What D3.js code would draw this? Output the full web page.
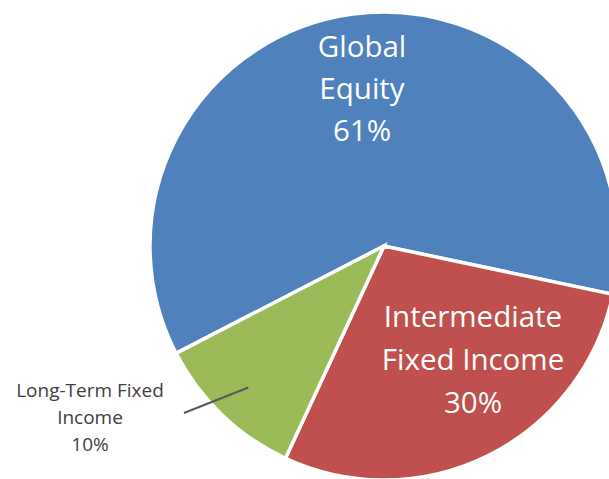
<!DOCTYPE html>
<html><head><meta charset="utf-8">
<script src="https://cdn.jsdelivr.net/npm/d3@7"></script>
<style>html,body{margin:0;padding:0;background:#fff;} svg{display:block;}</style>
</head><body>
<script>
const categories = ["Global Equity", "Intermediate Fixed Income", "Long-Term Fixed Income"];
const values = [60.9, 28.6, 10.5];
const pctLabels = ["61%", "30%", "10%"];
const labelLines = [["Global", "Equity"], ["Intermediate", "Fixed Income"], ["Long-Term Fixed", "Income"]];
const colors = ["#4F81BD", "#C0504D", "#9BBB59"];

const W = 609, H = 479;
const cx = 384, cy = 246, R = 234;
const svg = d3.select("body").append("svg").attr("width", W).attr("height", H);
const g = svg.append("g").attr("transform", `translate(${cx},${cy})`);

const start = -117.3 * Math.PI / 180;
const pie = d3.pie().sort(null).value(d => d).startAngle(start).endAngle(start + 2 * Math.PI);
const arcs = pie(values);
const arc = d3.arc().innerRadius(0).outerRadius(R);

g.selectAll("path").data(arcs).join("path")
  .attr("d", arc)
  .attr("fill", (d, i) => colors[i])
  .attr("stroke", "#fff").attr("stroke-width", 3.5).attr("stroke-linejoin", "miter");

const labelCfg = [
  {dx: -22, dy: -189, size: 29.5, lh: 42, fill: "#fff"},
  {dx: 89, dy: 81, size: 29.5, lh: 43, fill: "#fff"},
  {dx: -294, dy: 151, size: 19, lh: 27, fill: "#404040"}
];
arcs.forEach((a, i) => {
  const c = labelCfg[i];
  const t = g.append("text").attr("text-anchor", "middle")
    .attr("font-family", "'Open Sans', 'Noto Sans', sans-serif")
    .attr("font-size", c.size).attr("fill", c.fill)
    .attr("transform", `translate(${c.dx},${c.dy})`);
  const lines = labelLines[i].concat([pctLabels[i]]);
  lines.forEach((s, j) => t.append("tspan").attr("x", 0).attr("y", j * c.lh).text(s));
});

const mid = (arcs[2].startAngle + arcs[2].endAngle) / 2;
const p1 = [Math.sin(mid) * R * 0.838, -Math.cos(mid) * R * 0.838];
g.append("line")
  .attr("x1", p1[0]).attr("y1", p1[1])
  .attr("x2", -200).attr("y2", 167)
  .attr("stroke", "#595959").attr("stroke-width", 2);
</script>
</body></html>
